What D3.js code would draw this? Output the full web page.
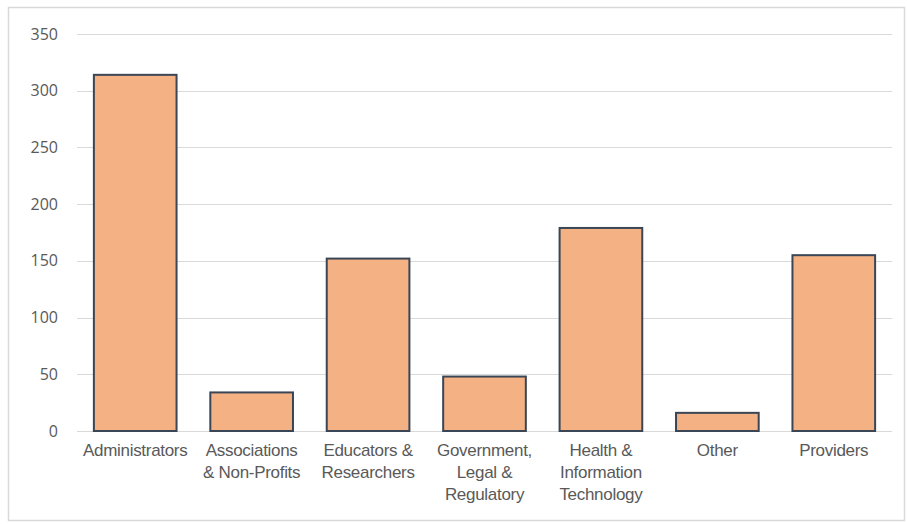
<!DOCTYPE html>
<html>
<head>
    <title>Bar chart</title>
    <script src="https://d3js.org/d3.v7.min.js"></script>
    <style>
        body { margin: 0; background: #fff; }
    </style>
</head>
<body>
    <div id="chart"></div>

    <script>
        // data
        const categories = [
            "Administrators",
            "Associations & Non-Profits",
            "Educators & Researchers",
            "Government, Legal & Regulatory",
            "Health & Information Technology",
            "Other",
            "Providers"
        ];
        // wrapped lines as in the original
        const categoryLines = [
            ["Administrators"],
            ["Associations", "& Non-Profits"],
            ["Educators &", "Researchers"],
            ["Government,", "Legal &", "Regulatory"],
            ["Health &", "Information", "Technology"],
            ["Other"],
            ["Providers"]
        ];
        const values = [314, 34, 152, 48, 179, 16, 155];
        const yTicks = [0, 50, 100, 150, 200, 250, 300, 350];

        const width = 907;
        const height = 524;
        const margin = { top: 34, right: 15, bottom: 93, left: 77 };

        const svg = d3.select("#chart")
            .append("svg")
            .attr("width", width)
            .attr("height", height);

        // chart frame
        svg.append("rect")
            .attr("x", 8.5)
            .attr("y", 7.5)
            .attr("width", width - 11)
            .attr("height", height - 11)
            .attr("fill", "#fff")
            .attr("stroke", "#d9d9d9")
            .attr("stroke-width", 1.5);

        const x = d3.scaleBand()
            .domain(categories)
            .range([margin.left, width - margin.right])
            .paddingInner(0.29)
            .paddingOuter(0.145);

        const y = d3.scaleLinear()
            .domain([0, 350])
            .range([height - margin.bottom, margin.top]);

        // grid lines
        svg.append("g")
            .selectAll("line")
            .data(yTicks)
            .join("line")
            .attr("x1", margin.left)
            .attr("x2", width - margin.right)
            .attr("y1", d => Math.round(y(d)) + 0.5)
            .attr("y2", d => Math.round(y(d)) + 0.5)
            .attr("stroke", "#d9d9d9")
            .attr("stroke-width", 1.2);

        // y axis labels
        const yAxis = svg.append("g")
            .attr("transform", `translate(${margin.left - 19},0)`)
            .call(d3.axisLeft(y).tickValues(yTicks).tickSize(0).tickPadding(0));
        yAxis.select(".domain").remove();
        yAxis.selectAll("text")
            .attr("font-family", "'Open Sans', 'Liberation Sans', sans-serif")
            .attr("font-size", 16)
            .attr("fill", "#595959");

        // bars
        svg.append("g")
            .selectAll("rect")
            .data(values)
            .join("rect")
            .attr("x", (d, i) => x(categories[i]))
            .attr("y", d => y(d))
            .attr("width", x.bandwidth())
            .attr("height", d => y(0) - y(d))
            .attr("fill", "#f4b183")
            .attr("stroke", "#3a4656")
            .attr("stroke-width", 2);

        // category labels
        const labels = svg.append("g")
            .attr("font-family", "'Liberation Sans', Arial, sans-serif")
            .attr("font-size", 17)
            .attr("fill", "#595959")
            .attr("text-anchor", "middle");

        labels.selectAll("text")
            .data(categories)
            .join("text")
            .attr("x", d => x(d) + x.bandwidth() / 2)
            .attr("y", height - margin.bottom + 25)
            .each(function (d, i) {
                d3.select(this).selectAll("tspan")
                    .data(categoryLines[i])
                    .join("tspan")
                    .attr("x", x(d) + x.bandwidth() / 2)
                    .attr("dy", (t, j) => j === 0 ? 0 : 22)
                    .attr("letter-spacing", -0.3)
                    .text(t => t);
            });
    </script>
</body>
</html>
